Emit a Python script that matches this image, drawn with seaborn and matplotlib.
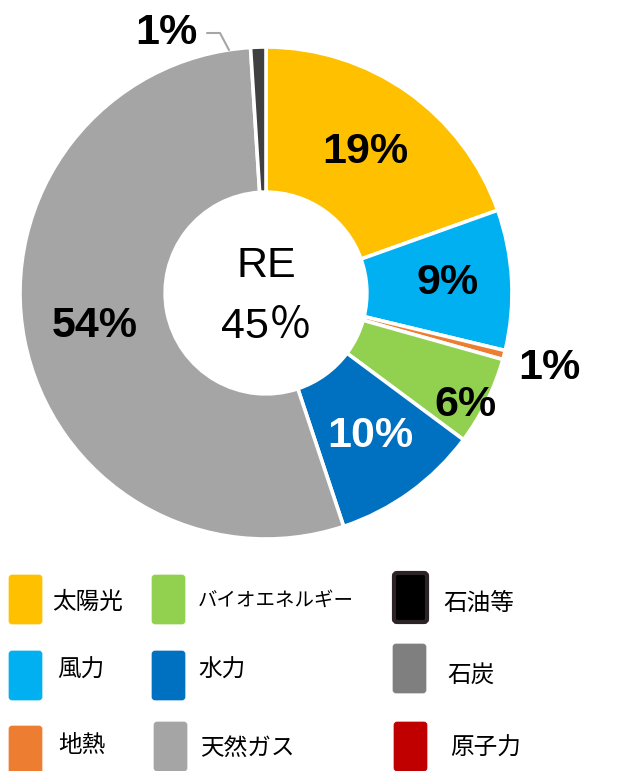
import matplotlib
matplotlib.use("Agg")
import matplotlib.pyplot as plt
import matplotlib.transforms as mtransforms
from matplotlib.patches import FancyBboxPatch
import numpy as np
import seaborn as sns

# ---- data ----
categories = ["太陽光", "風力", "地熱", "バイオエネルギー", "水力", "天然ガス", "石油等", "石炭", "原子力"]
shares = [19.5, 9.2, 0.6, 5.8, 9.7, 54.0, 1.0, 0.0, 0.0]
pct_labels = ["19%", "9%", "1%", "6%", "10%", "54%", "1%", "", ""]
center_labels = ["RE", "45％"]

slice_colors = ["#FFC000", "#00B0F0", "#ED7D31", "#92D050", "#0070C0", "#A5A5A5", "#404040", "#7F7F7F", "#C00000"]
legend_colors = ["#FFC000", "#00B0F0", "#ED7D31", "#92D050", "#0070C0", "#A5A5A5", "#000000", "#7F7F7F", "#C00000"]

sns.set_style("white")
plt.rcParams["font.family"] = ["Liberation Sans", "Noto Sans CJK JP", "DejaVu Sans"]
plt.rcParams["text.color"] = "black"

W, H = 641, 771
fig = plt.figure(figsize=(W / 100, H / 100), dpi=100)
px = mtransforms.Affine2D().scale(1 / W, 1 / H) + fig.transFigure

def fy(y):
    return H - y

# pie axes: center (266,293), radius 246 px
cx, cy, R = 266, 293, 246
ax = fig.add_axes([(cx - R) / W, (H - cy - R) / H, 2 * R / W, 2 * R / H])
palette = sns.color_palette(slice_colors)
idx = [i for i, v in enumerate(shares) if v > 0]
wedges, _ = ax.pie([shares[i] for i in idx], colors=[palette[i] for i in idx],
                   startangle=90, counterclock=False, radius=1.0,
                   wedgeprops=dict(width=0.59, edgecolor="white", linewidth=2.6))
ax.set_xlim(-1, 1)
ax.set_ylim(-1, 1)
ax.set_aspect("equal")
ax.axis("off")

# label radius/colour per slice
lab_r = {0: 0.70, 1: 0.74, 2: 1.19, 3: 0.93, 4: 0.72, 5: 0.71, 6: 1.13}
lab_ang_override = {2: -14.9, 3: -29.4, 6: 111.0}
lab_col = {4: "white"}
for w, i in zip(wedges, idx):
    ang = (w.theta1 + w.theta2) / 2
    ang = lab_ang_override.get(i, ang)
    r = lab_r.get(i, 0.7)
    x, y = r * np.cos(np.deg2rad(ang)), r * np.sin(np.deg2rad(ang))
    ax.text(x, y, pct_labels[i], ha="center", va="center", fontsize=31,
            fontweight="bold", color=lab_col.get(i, "black"), clip_on=False)

# leader line for top 1%
fig.add_artist(plt.Line2D([207, 220, 229], [fy(33), fy(33), fy(50)], transform=px,
                          color="#A6A6A6", linewidth=1.5))

# centre text
fig.text(cx / W, fy(266) / H, center_labels[0], ha="center", va="center", fontsize=31,
         color="black", family=["Liberation Sans", "Noto Sans CJK JP"])
fig.text(cx / W, fy(327) / H, center_labels[1], ha="center", va="center", fontsize=31,
         color="black", family=["Liberation Sans", "Noto Sans CJK JP"])

# legend (manual, column-major)
box_x = [9, 9, 9, 152, 152, 154, 394, 393, 394]
box_y = [575, 651, 726, 575, 651, 722, 573, 644, 722]
txt_x = [52, 57, 58, 198, 198, 200, 443, 447, 450]
txt_y = [602, 670, 745, 600, 670, 748, 603, 675, 748]
txt_fs = [17, 17, 17, 14, 17, 17, 17, 17, 17]
for i, cat in enumerate(categories):
    bw, bh = 33, 49
    edge = "#2B2325" if i == 6 else legend_colors[i]
    lw = 3 if i == 6 else 0.5
    p = FancyBboxPatch((box_x[i], fy(box_y[i] + bh)), bw, bh,
                       boxstyle="round,pad=0,rounding_size=3",
                       facecolor=legend_colors[i], edgecolor=edge, linewidth=lw,
                       transform=px)
    fig.add_artist(p)
    fig.text(txt_x[i] / W, fy(txt_y[i]) / H, cat, ha="left", va="center",
             fontsize=txt_fs[i], color="black", family=["Noto Sans CJK JP", "DejaVu Sans"])

fig.savefig("out.png", dpi=100, facecolor="white")
